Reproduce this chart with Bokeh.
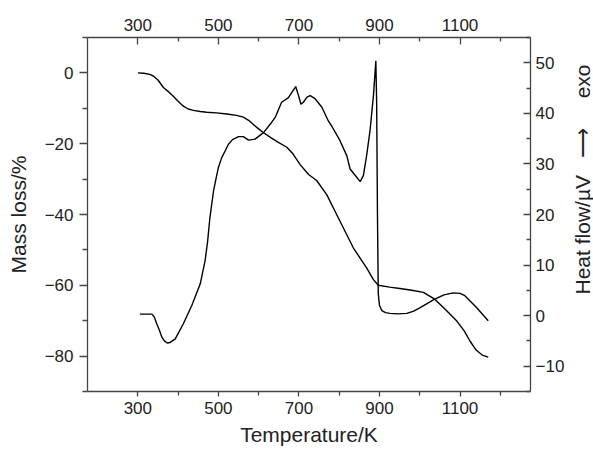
from bokeh.plotting import figure
from bokeh.models import Range1d, LinearAxis, FixedTicker
from bokeh.layouts import row
from bokeh.embed import file_html
from bokeh.resources import INLINE

# ---- data ----
temp_mass = [300, 315, 330, 340, 350, 364, 376, 388, 400, 413, 425, 438, 455, 471, 495,
             521, 545, 562, 575, 587, 600, 612, 630, 649, 670, 686, 703, 724, 744, 769,
             802, 835, 868, 885, 897, 925, 951, 980, 1009, 1038, 1065, 1092, 1110, 1125,
             1140, 1155, 1170]
mass_loss = [0, -0.1, -0.4, -1.0, -2.0, -4.2, -5.3, -6.6, -8.0, -9.4, -10.2, -10.6,
             -10.9, -11.1, -11.3, -11.6, -12.0, -12.5, -13.4, -14.6, -15.8, -16.9, -18.3,
             -19.6, -21.0, -23.0, -25.9, -28.7, -30.4, -34.4, -41.9, -49.4, -55.1, -58.4,
             -60.0, -60.5, -60.9, -61.4, -62.0, -64.0, -67.0, -70.1, -72.8, -75.8, -78.3,
             -79.7, -80.3]

temp_heat = [305, 320, 335, 341, 347, 354, 360, 366, 373, 380, 393, 413, 434, 455, 467,
             473, 479, 488, 500, 508, 517, 525, 535, 550, 562, 575, 591, 612, 632, 641,
             657, 674, 682, 692, 699, 705, 711, 720, 728, 740, 757, 773, 782, 802, 819,
             827, 839, 852, 860, 868, 877, 885, 891, 893, 895, 897, 900, 906, 915, 926,
             945, 968, 985, 1001, 1034, 1060, 1083, 1100, 1112, 1141, 1170]
heat_flow = [0.3, 0.3, 0.3, -0.3, -1.6, -3.0, -4.3, -5.0, -5.4, -5.3, -4.6, -1.6, 2.0,
             6.3, 10.9, 14.5, 19.4, 24.7, 29.3, 31.2, 32.6, 33.9, 34.8, 35.4, 35.4, 34.7,
             34.9, 36.2, 38.2, 39.2, 42.2, 43.1, 44.1, 45.3, 43.5, 41.8, 42.2, 43.2, 43.5,
             42.9, 41.2, 38.5, 37.4, 34.6, 31.6, 29.0, 27.8, 26.5, 27.7, 31.6, 36.9, 43.5,
             50.4, 42.0, 20.0, 4.3, 2.0, 1.0, 0.6, 0.45, 0.35, 0.45, 0.9, 1.6, 3.1, 4.1,
             4.5, 4.4, 3.95, 1.6, -1.0]

x_major = [300, 500, 700, 900, 1100]
x_minor = [400, 600, 800, 1000, 1200]
mass_major = [0, -20, -40, -60, -80]
mass_minor = [10, -10, -30, -50, -70, -90]
heat_major = [-10, 0, 10, 20, 30, 40, 50]
heat_minor = [55, 45, 35, 25, 15, 5, -5, -15]

x_label = "Temperature/K"
mass_label = "Mass loss/%"
NB = "\u00a0"
heat_label = NB * 12 + "Heat flow/\u00b5V" + NB * 3 + "\u27f6" + NB * 5 + "exo"

FONT = "Liberation Sans"
TXT = "#222222"
AX = "#444444"

p = figure(width=567, height=453, output_backend="svg", toolbar_location=None,
           x_range=Range1d(175, 1275), y_range=Range1d(-90, 10),
           x_axis_location=None, y_axis_location=None,
           min_border_left=87, min_border_right=36, min_border_top=37, min_border_bottom=62)
p.extra_y_ranges = {"heat": Range1d(-15, 55)}
p.grid.visible = False
p.outline_line_color = None
p.background_fill_color = "white"
p.border_fill_color = "white"


def fmt(v):
    return ("\u2212" + str(abs(v))) if v < 0 else str(v)


def style(ax, inside):
    ax.axis_line_color = AX
    ax.axis_line_width = 1.3
    ax.major_tick_line_color = AX
    ax.minor_tick_line_color = AX
    ax.major_tick_line_width = 1.3
    ax.minor_tick_line_width = 1.3
    if inside:
        ax.major_tick_in = 7
        ax.major_tick_out = 0
        ax.minor_tick_in = 4
        ax.minor_tick_out = 0
    else:
        ax.major_tick_in = 0
        ax.major_tick_out = 7
        ax.minor_tick_in = 0
        ax.minor_tick_out = 4
    ax.major_label_text_font = FONT
    ax.major_label_text_font_size = "17px"
    ax.major_label_text_color = TXT
    ax.axis_label_text_font = FONT
    ax.axis_label_text_font_size = "21px"
    ax.axis_label_text_font_style = "normal"
    ax.axis_label_text_color = TXT


bottom = LinearAxis(ticker=FixedTicker(ticks=x_major, minor_ticks=x_minor), axis_label=x_label)
bottom.major_label_overrides = {v: fmt(v) for v in x_major}
style(bottom, False)
bottom.major_tick_out = 5
bottom.minor_tick_out = 4
bottom.major_label_standoff = 5
bottom.axis_label_standoff = 6
p.add_layout(bottom, "below")

top = LinearAxis(ticker=FixedTicker(ticks=x_major, minor_ticks=x_minor))
top.major_label_overrides = {v: fmt(v) for v in x_major}
style(top, True)
top.major_label_standoff = 7
p.add_layout(top, "above")

left = LinearAxis(ticker=FixedTicker(ticks=mass_major, minor_ticks=mass_minor), axis_label=mass_label)
left.major_label_overrides = {v: fmt(v) for v in mass_major}
style(left, False)
left.major_tick_out = 8
left.minor_tick_out = 5
left.major_label_standoff = 6
left.axis_label_standoff = 12
p.add_layout(left, "left")

right = LinearAxis(y_range_name="heat", ticker=FixedTicker(ticks=heat_major, minor_ticks=heat_minor))
right.major_label_overrides = {v: fmt(v) for v in heat_major}
style(right, True)
right.major_label_standoff = 5
p.add_layout(right, "right")

p.line(temp_mass, mass_loss, line_color="black", line_width=1.4)
p.line(temp_heat, heat_flow, line_color="black", line_width=1.4, y_range_name="heat")

# narrow strip that carries the right-hand axis title (reads bottom to top)
q = figure(width=26, height=453, output_backend="svg", toolbar_location=None,
           x_range=Range1d(0, 1), y_range=Range1d(0, 1),
           x_axis_location=None, y_axis_location=None,
           min_border_left=0, min_border_right=0, min_border_top=37, min_border_bottom=62)
q.grid.visible = False
q.outline_line_color = None
q.background_fill_color = "white"
q.border_fill_color = "white"
lab_ax = LinearAxis(ticker=FixedTicker(ticks=[]), axis_label=heat_label)
lab_ax.axis_line_color = None
lab_ax.major_tick_line_color = None
lab_ax.minor_tick_line_color = None
lab_ax.major_tick_out = 0
lab_ax.minor_tick_out = 0
lab_ax.major_label_standoff = 0
lab_ax.axis_label_standoff = 0
lab_ax.axis_label_text_font = FONT
lab_ax.axis_label_text_font_size = "21px"
lab_ax.axis_label_text_font_style = "normal"
lab_ax.axis_label_text_color = TXT
q.add_layout(lab_ax, "left")

layout = row(p, q, spacing=0)
open("out.html", "w").write(file_html(layout, INLINE))
